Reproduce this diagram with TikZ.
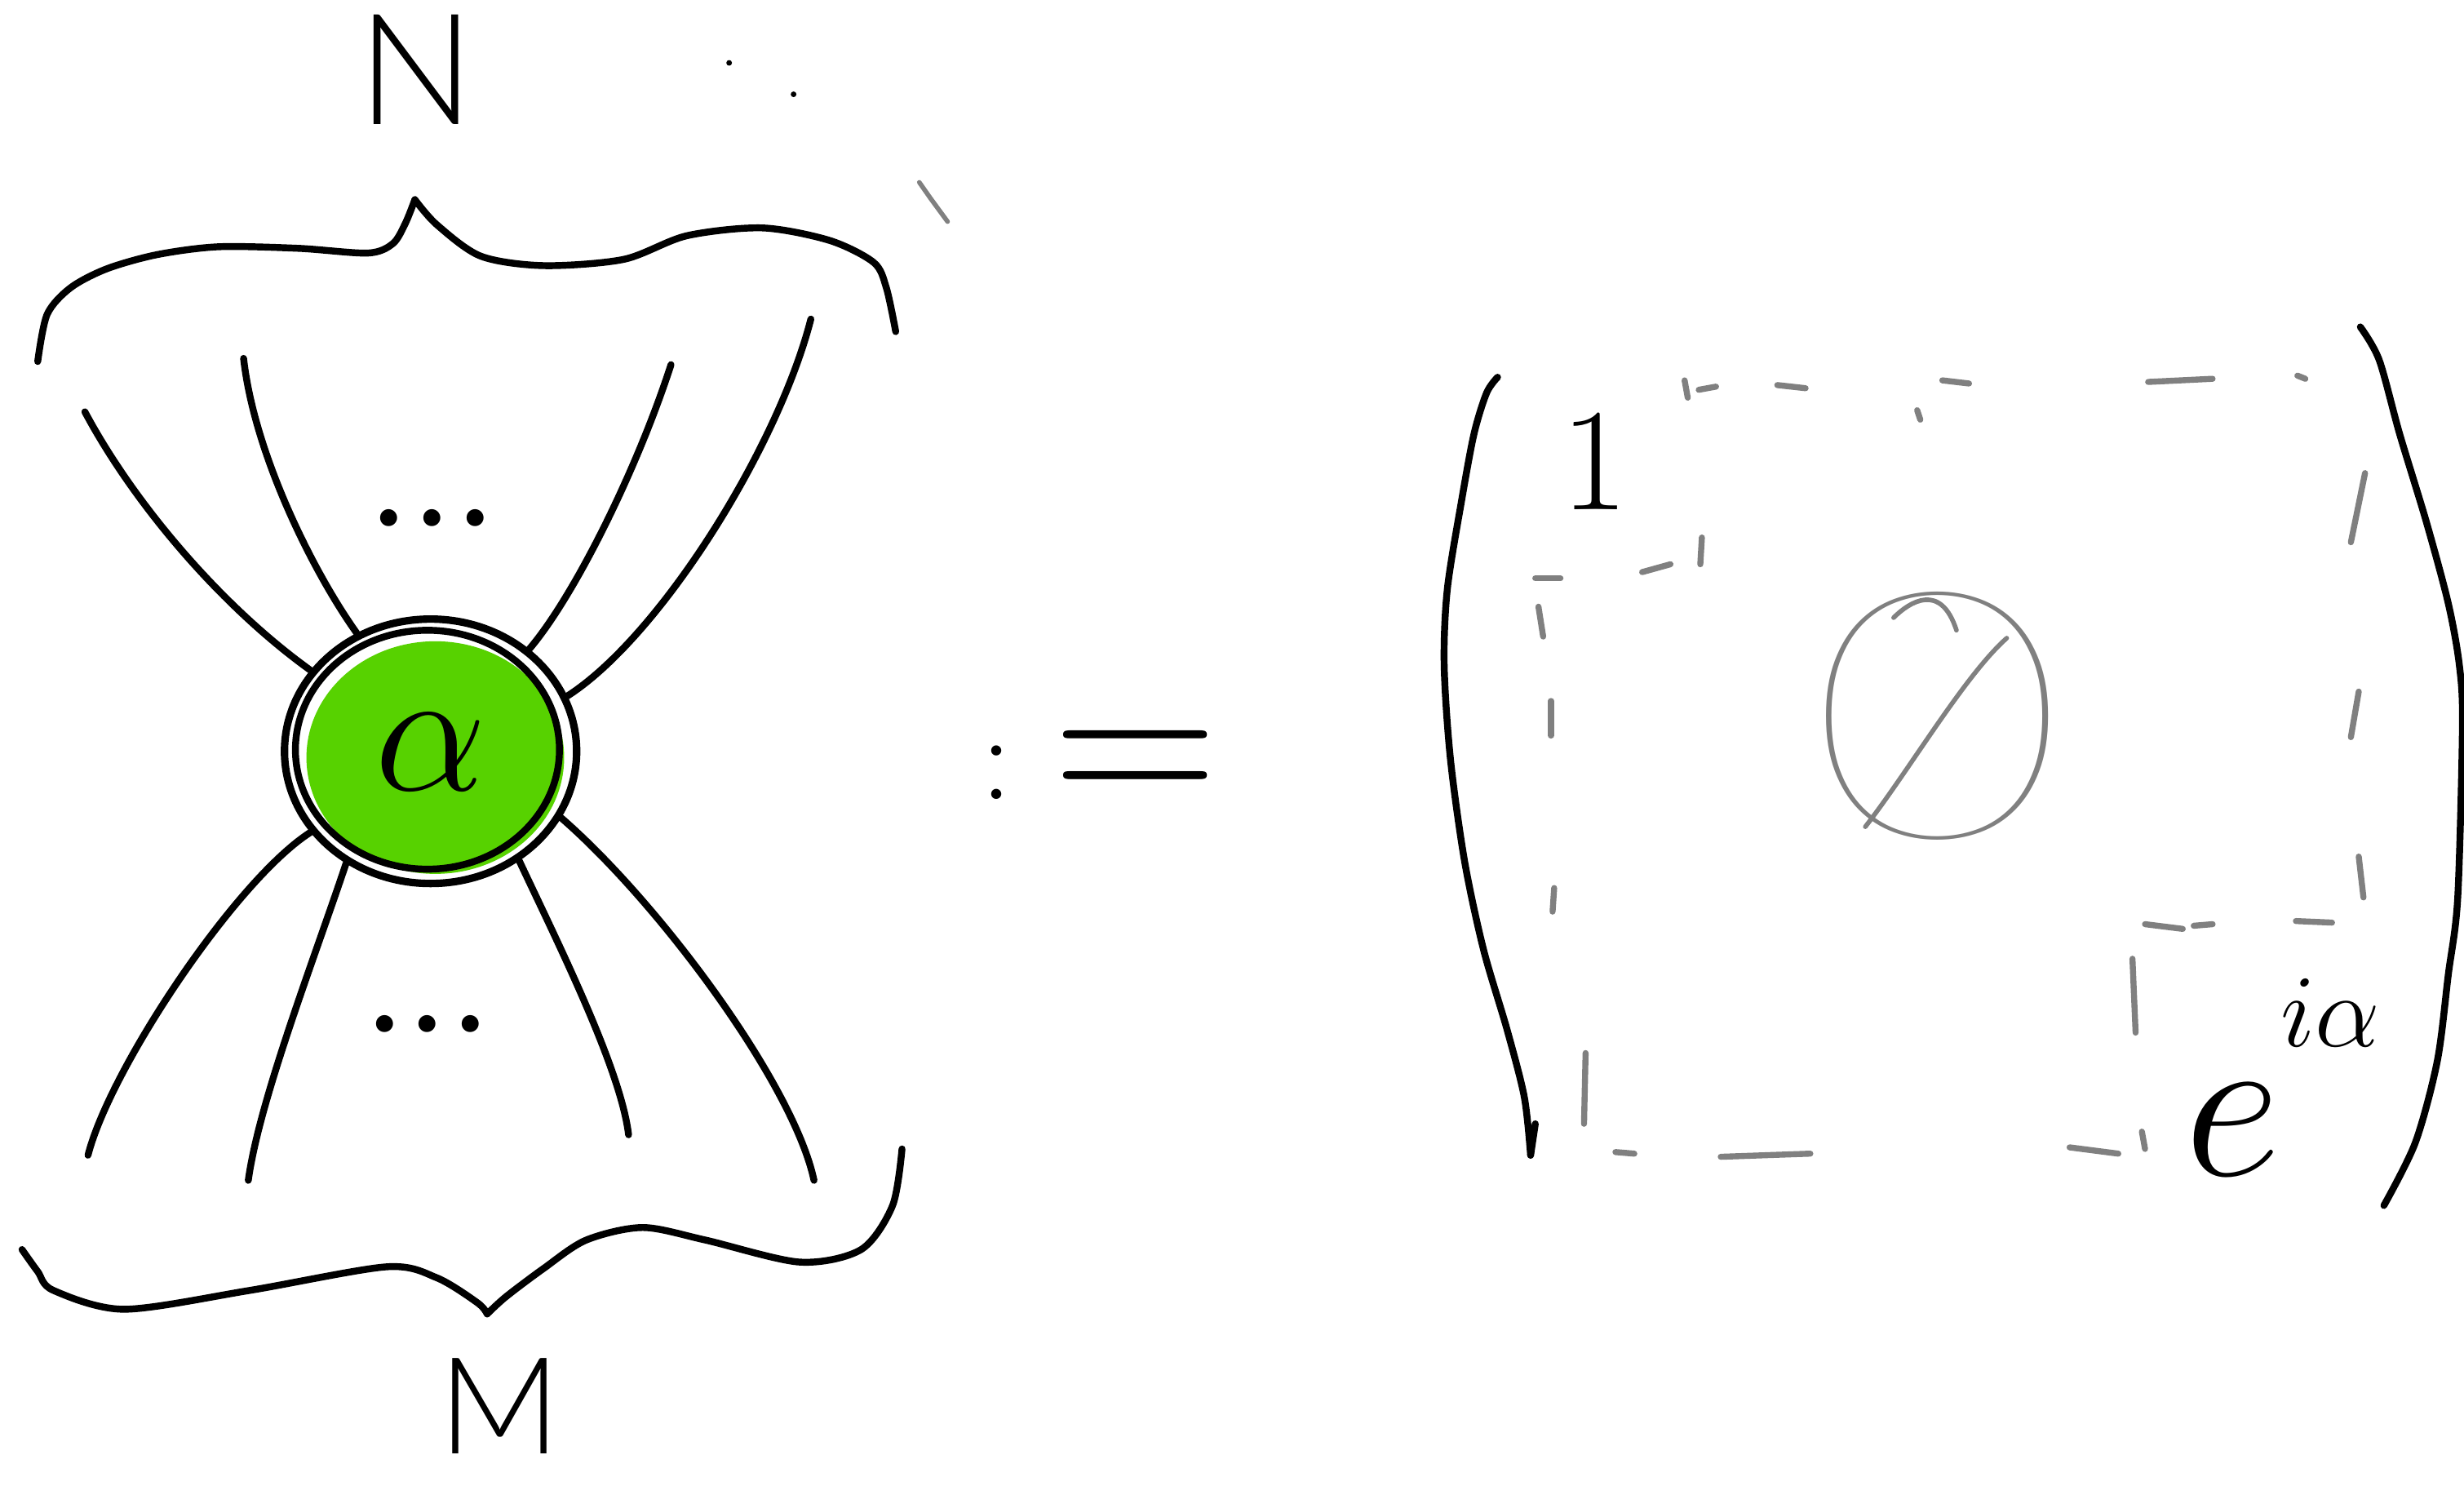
\RequirePackage{fix-cm}
\documentclass[tikz,border=0pt]{standalone}
\usepackage{fontspec}
\newfontfamily\lightfont{Lato Light}
\newfontfamily\hairfont{Lato Hairline}
\usetikzlibrary{shapes.geometric}
\definecolor{spgreen}{RGB}{87,210,0}
\definecolor{pencil}{RGB}{128,128,128}
\tikzset{
  ink/.style={line width=2.4pt, line cap=round, line join=round},
  faint/.style={draw=pencil, line width=2.1pt, line cap=round, line join=round},
  thinfaint/.style={draw=pencil, line width=1.6pt, line cap=round, line join=round},
  lbl/.style={inner sep=0pt, outer sep=0pt},
  spider/.style={ellipse, draw, line width=2.6pt, minimum width=3.58cm, minimum height=3.24cm, inner sep=0pt},
}
\begin{document}
\begin{tikzpicture}[x=0.01926cm, y=-0.01926cm]
\useasboundingbox (0,0) rectangle (1568,945);
\fill[white] (0,0) rectangle (1568,945);

% ---------- spider ----------
\fill[spgreen] (277,482) ellipse [x radius=82, y radius=74];
\node[spider] (sp) at (274,478) {};
\draw[ink] (272,477) ellipse [x radius=84, y radius=76];
\node[lbl, anchor=base, font=\fontsize{62}{62}\selectfont] (alpha) at (274,503) {$\alpha$};

% wire ends
\coordinate (t1) at (54,262);
\coordinate (t2) at (155,228);
\coordinate (t3) at (427,232);
\coordinate (t4) at (516,203);
\coordinate (b1) at (56,735);
\coordinate (b2) at (158,751);
\coordinate (b3) at (400,722);
\coordinate (b4) at (518,751);

\draw[ink] (sp.146) .. controls (140,385) and (85,320) .. (t1);
\draw[ink] (sp.122) .. controls (200,365) and (162,290) .. (t2);
\draw[ink] (sp.46)  .. controls (365,380) and (405,300) .. (t3);
\draw[ink] (sp.22)  .. controls (420,405) and (495,285) .. (t4);
\draw[ink] (sp.214) .. controls (150,560) and (70,680) .. (b1);
\draw[ink] (sp.233) .. controls (200,610) and (165,700) .. (b2);
\draw[ink] (sp.309) .. controls (355,600) and (395,680) .. (b3);
\draw[ink] (sp.333) .. controls (420,575) and (505,690) .. (b4);

% dots between wires
\node[lbl, anchor=base, font=\lightfont\fontsize{64}{64}\selectfont] (dtop) at (275,334) {...};
\node[lbl, anchor=base, font=\lightfont\fontsize{64}{64}\selectfont] (dbot) at (272,656) {...};

% ---------- braces ----------
\draw[ink] plot[smooth] coordinates {(24,230) (30,200) (45,183) (68,171) (100,162) (139,157) (190,158) (234,161) (250,155) (258,142) (264,127)};
\draw[ink] plot[smooth] coordinates {(264,127) (278,143) (306,163) (346,169) (397,165) (437,150) (485,145) (528,153) (556,167) (564,183) (570,211)};
\draw[ink] plot[smooth] coordinates {(14,795) (24,809) (34,821) (79,833) (159,821) (246,806) (278,813) (304,829) (310,836)};
\draw[ink] plot[smooth] coordinates {(310,836) (322,825) (346,807) (373,789) (409,781) (449,789) (509,803) (548,795) (568,767) (574,731)};

\node[lbl, anchor=base, font=\lightfont\fontsize{54}{54}\selectfont] (N) at (265,79) {N};
\node[lbl, anchor=base, font=\lightfont\fontsize{47}{47}\selectfont] (M) at (318,925) {M};

% stray marks
\fill (464,40) circle [radius=1.8];
\fill (505,60) circle [radius=1.8];
\draw[thinfaint] (585,116) -- (592,126) -- (603,141);

% ---------- definition sign ----------
\node[lbl, anchor=base west] (def) at (626,517) {\lightfont\fontsize{38}{38}\selectfont\raisebox{5pt}{:}\hspace{15pt}\rmfamily\fontsize{80}{80}\selectfont=};

% ---------- matrix ----------
\draw[ink] plot[smooth] coordinates {(953,240) (946,250) (938,276) (930,319) (921,375) (919,423) (923,483) (932,548) (944,604) (959,655) (970,698) (974,735)};
\draw[ink] (974,735) -- (977,715);
\draw[ink] plot[smooth] coordinates {(1502,208) (1514,229) (1527,276) (1544,332) (1558,384) (1565,423) (1567,461) (1564,571) (1558,620) (1551,675) (1537,727) (1517,767)};

\node[lbl, anchor=base, font=\fontsize{51}{51}\selectfont] (one) at (1015,324) {1};
\node[lbl, anchor=base, text=pencil, xscale=1.29, font=\hairfont\fontsize{121}{121}\selectfont] (zero) at (1233,533) {0};
\draw[thinfaint] (1187,526) .. controls (1215,490) and (1250,430) .. (1277,406);
\draw[thinfaint] (1205,393) .. controls (1215,383) and (1235,370) .. (1245,401);
\node[lbl, anchor=base west, font=\fontsize{74}{74}\selectfont] (eia) at (1390,748) {$e$\raisebox{45pt}{\fontsize{36}{36}\selectfont$i\alpha$}};

% dashes
\foreach \a/\b in {
  {(1072,242)}/{(1074,253)}, {(1081,248)}/{(1092,246)}, {(1131,245)}/{(1149,247)},
  {(1220,261)}/{(1222,267)}, {(1236,242)}/{(1253,244)}, {(1367,243)}/{(1408,241)},
  {(1462,239)}/{(1467,241)},
  {(977,368)}/{(993,368)}, {(1045,364)}/{(1063,359)}, {(1083,342)}/{(1082,359)},
  {(979,386)}/{(982,405)}, {(987,446)}/{(987,468)}, {(989,565)}/{(988,580)}, {(1009,670)}/{(1008,715)},
  {(1028,733)}/{(1040,734)}, {(1095,736)}/{(1152,734)}, {(1317,730)}/{(1348,734)}, {(1363,720)}/{(1365,731)},
  {(1505,301)}/{(1496,345)}, {(1501,440)}/{(1496,469)}, {(1501,545)}/{(1504,571)},
  {(1365,588)}/{(1389,591)}, {(1396,589)}/{(1408,588)}, {(1461,586)}/{(1484,587)}, {(1357,610)}/{(1359,657)}}
  \draw[faint] \a -- \b;
\end{tikzpicture}
\end{document}
